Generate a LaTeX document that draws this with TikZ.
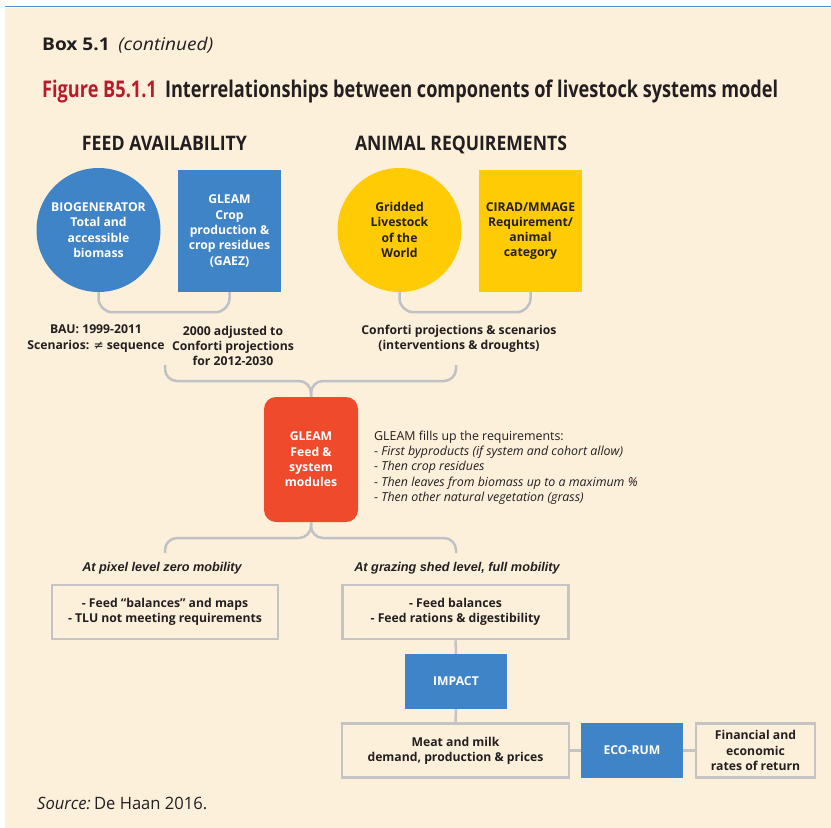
\documentclass[tikz,border=0pt]{standalone}
\usepackage{fontspec}
\usepackage{graphicx}
\setmainfont{Open Sans}
\newfontfamily\arialf{Liberation Sans}
\newfontfamily\djvf{DejaVu Sans}
\definecolor{cream}{HTML}{FDF0DA}
\definecolor{cblue}{HTML}{3F84C6}
\definecolor{cyel}{HTML}{FECB05}
\definecolor{cred}{HTML}{EF4A2B}
\definecolor{ctitle}{HTML}{BA1B2B}
\definecolor{ctext}{HTML}{231F20}
\definecolor{clink}{HTML}{BEC2C6}
\definecolor{cbord}{HTML}{C4C4C4}
\definecolor{ctop}{HTML}{4A8FD8}
\tikzset{
  nodefont/.style={font=\bfseries\fontsize{12.2}{15.3}\selectfont, align=center},
  bluecirc/.style={circle, fill=cblue, minimum size=124, inner sep=0, text=white, nodefont},
  yelcirc/.style={circle, fill=cyel, minimum size=124, inner sep=0, text=ctext, nodefont},
  bluesq/.style={rectangle, fill=cblue, minimum width=103, minimum height=122, inner sep=0, text=white, nodefont},
  yelsq/.style={rectangle, fill=cyel, minimum width=103, minimum height=122, inner sep=0, text=ctext, nodefont},
  redbox/.style={rectangle, rounded corners=12, fill=cred, minimum width=94, minimum height=125, inner sep=0, text=white, nodefont},
  outbox/.style={rectangle, draw=cbord, line width=2.5, inner sep=0, text=ctext, nodefont},
  lbl/.style={text=ctext, nodefont, inner sep=0},
  itlbl/.style={text=ctext, font=\arialf\bfseries\itshape\fontsize{12.7}{15}\selectfont, inner sep=0},
  link/.style={draw=clink, line width=2.5},
  heading/.style={text=ctext, font=\bfseries\fontsize{20}{24}\selectfont, inner sep=0, anchor=base}
}
\begin{document}
\begin{tikzpicture}[x=1pt,y=-1pt]
\useasboundingbox (0,0) rectangle (831,828);
\fill[white] (0,0) rectangle (831,828);
\fill[cream] (5,8) rectangle (831,828);
\draw[ctop, line width=1.3] (5,6.5) -- (831,6.5);

% headers
\node[anchor=base west, inner sep=0, text=ctext, font=\fontsize{17.5}{20}\selectfont] (box) at (42,50)
  {\resizebox{171pt}{\height}{\textbf{Box 5.1}\hspace{0.45em}\textit{(continued)}}};
\node[anchor=base west, inner sep=0, text=ctext, font=\bfseries\fontsize{23}{27}\selectfont] (title) at (42,97)
  {\resizebox{736pt}{\height}{{\color{ctitle}Figure B5.1.1}\hspace{0.45em}Interrelationships between components of livestock systems model}};
\node[heading] (hfeed) at (164.5,150) {\resizebox{165pt}{\height}{FEED AVAILABILITY}};
\node[heading] (hanim) at (461,150) {\resizebox{212pt}{\height}{ANIMAL REQUIREMENTS}};

% top sources
\node[bluecirc] (bio) at (98.5,230) {BIOGENERATOR\\Total and\\accessible\\biomass};
\node[bluesq] (gcrop) at (229.5,231) {GLEAM\\Crop\\production \&\\crop residues\\(GAEZ)};
\node[yelcirc] (glw) at (399.5,230) {Gridded\\Livestock\\of the\\World};
\node[yelsq] (cirad) at (530.5,231) {CIRAD/MMAGE\\Requirement/\\animal\\category};

\draw[link, rounded corners=14] (bio.south) -- ++(0,20) -| (gcrop.south);
\draw[link, rounded corners=14] (glw.south) -- ++(0,20) -| (cirad.south);

\node[lbl] (bau) at (96,338.5) {BAU: 1999-2011\\Scenarios: {\djvf\mdseries ≠} sequence};
\node[lbl] (adj) at (233,346) {2000 adjusted to\\Conforti projections\\for 2012-2030};
\node[lbl] (conf) at (459,338.5) {Conforti projections \& scenarios\\(interventions \& droughts)};

% central module
\node[redbox] (gfeed) at (311,459.5) {GLEAM\\Feed \&\\system\\modules};
\node[anchor=west, align=left, inner sep=0, text=ctext, font=\fontsize{12.4}{15.3}\selectfont] (fills) at (374,467.5)
  {GLEAM fills up the requirements:\\
   - \textit{First byproducts (if system and cohort allow)}\\
   - \textit{Then crop residues}\\
   - \textit{Then leaves from biomass up to a maximum \%}\\
   - \textit{Then other natural vegetation (grass)}};

\coordinate (bl) at (165,365);
\coordinate (br) at (456,365);
\coordinate (tj) at (311,381);
\draw[link, rounded corners=12] (bl) |- (tj) -- (gfeed.north);
\draw[link, rounded corners=12] (br) |- (tj) -- (gfeed.north);

\coordinate (bj) at (311,538);
\coordinate (bl2) at (165,553);
\coordinate (br2) at (456,553);
\draw[link, rounded corners=12] (gfeed.south) -- (bj) -| (bl2);
\draw[link, rounded corners=12] (gfeed.south) -- (bj) -| (br2);

\node[itlbl] (pix) at (162,568) {At pixel level zero mobility};
\node[itlbl] (graz) at (457,568) {At grazing shed level, full mobility};

% outputs
\node[outbox, minimum width=226, minimum height=54] (bal1) at (165,612) {- Feed “balances” and maps\\- TLU not meeting requirements};
\node[outbox, minimum width=226, minimum height=54] (bal2) at (455.5,612) {- Feed balances\\- Feed rations \& digestibility};
\node[bluesq, minimum width=102, minimum height=55] (impact) at (456,681.5) {IMPACT};
\node[outbox, minimum width=227, minimum height=54] (meat) at (455.5,750.5) {Meat and milk\\demand, production \& prices};
\node[bluesq, minimum width=102, minimum height=55] (eco) at (632,750.5) {ECO-RUM};
\node[outbox, minimum width=119, minimum height=54] (fin) at (755.5,750.5) {Financial and\\economic\\rates of return};

\draw[link, draw=cbord] (bal2) -- (impact);
\draw[link, draw=cbord] (impact) -- (meat);
\draw[link, draw=cbord] (meat) -- (eco);
\draw[link, draw=cbord] (eco) -- (fin);

\node[anchor=base west, inner sep=0, text=ctext, font=\fontsize{17}{20}\selectfont] (src) at (37,809)
  {\resizebox{170pt}{\height}{\textit{Source:}\hspace{0.2em}De Haan 2016.}};
\end{tikzpicture}
\end{document}
